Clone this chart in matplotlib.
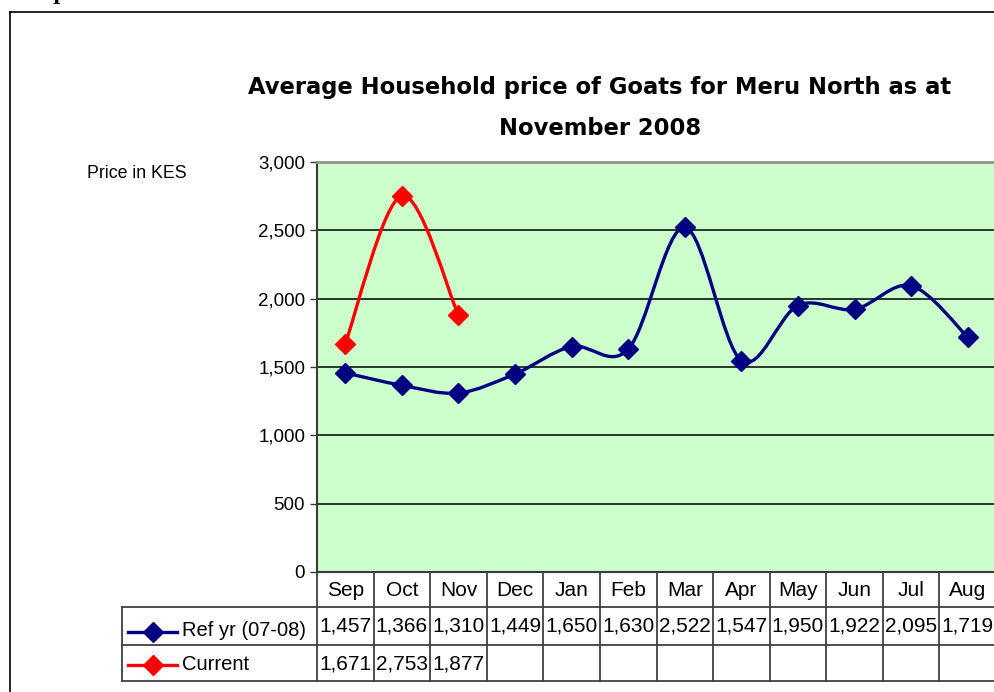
import numpy as np
import matplotlib
matplotlib.use('Agg')
import matplotlib.pyplot as plt
from matplotlib.path import Path
from matplotlib.patches import PathPatch
from matplotlib.lines import Line2D
from matplotlib.transforms import blended_transform_factory

plt.rcParams['font.family'] = ['Liberation Sans', 'DejaVu Sans']

months = ['Sep', 'Oct', 'Nov', 'Dec', 'Jan', 'Feb', 'Mar', 'Apr', 'May',
          'Jun', 'Jul', 'Aug']
ref_yr = [1457, 1366, 1310, 1449, 1650, 1630, 2522, 1547, 1950, 1922, 2095, 1719]
current = [1671, 2753, 1877]
ref_label = 'Ref yr (07-08)'
cur_label = 'Current'
title = 'Average Household price of Goats for Meru North as at\nNovember 2008'
y_ticks = [0, 500, 1000, 1500, 2000, 2500, 3000]

W, H = 995, 692
BLUE = '#000080'
RED = '#ff0000'
GRID_C = '#3a3a3a'


def px(x):
    return x / W


def py(y):
    return 1 - y / H


def smooth_path(xs, ys):
    # Excel-style smoothed line: cubic Bezier through each point
    pts = np.column_stack([xs, ys]).astype(float)
    n = len(pts)
    verts = [pts[0]]
    codes = [Path.MOVETO]
    for i in range(n - 1):
        p0 = pts[i - 1] if i > 0 else pts[i]
        p1 = pts[i]
        p2 = pts[i + 1]
        p3 = pts[i + 2] if i + 2 < n else pts[i + 1]
        c1 = p1 + (p2 - p0) / 6
        c2 = p2 - (p3 - p1) / 6
        verts += [c1, c2, p2]
        codes += [Path.CURVE4] * 3
    return Path(verts, codes)


fig = plt.figure(figsize=(W / 100, H / 100), dpi=100)

# outer frame of the chart object (cropped at right and bottom)
fig.add_artist(Line2D([px(10), px(10)], [py(12), py(H + 5)],
                      color='black', lw=1.2))
fig.add_artist(Line2D([px(10), px(W + 5)], [py(12), py(12)],
                      color='black', lw=1.2))
fig.text(px(59), py(4), 'p', ha='center', va='bottom', fontsize=14,
         fontweight='bold', family='DejaVu Serif')

ax = fig.add_axes([px(317), py(572), px(996) - px(317), py(162) - py(572)])
ax.set_facecolor('#ccffcc')
ax.set_xlim(-0.5, len(months) - 0.5)
ax.set_ylim(0, 3000)
ax.set_xticks([])
ax.set_yticks(y_ticks)
ax.set_yticklabels([f'{v:,}' for v in y_ticks])
ax.tick_params(axis='y', length=5, width=1.0, color=GRID_C, pad=3.5,
               labelsize=13.5)
for v in y_ticks[1:-1]:
    ax.axhline(v, color='black', lw=1.1, zorder=1)
ax.spines['top'].set_color('#909090')
ax.spines['top'].set_linewidth(2)
ax.spines['right'].set_visible(False)
ax.spines['left'].set_color(GRID_C)
ax.spines['left'].set_linewidth(1.5)
ax.spines['bottom'].set_color(GRID_C)
ax.spines['bottom'].set_linewidth(1.5)

x_ref = np.arange(len(ref_yr))
x_cur = np.arange(len(current))
for xs, ys, col in [(x_ref, ref_yr, BLUE), (x_cur, current, RED)]:
    ax.add_patch(PathPatch(smooth_path(xs, ys), facecolor='none',
                           edgecolor=col, lw=2.4, zorder=3,
                           capstyle='round', joinstyle='round'))
    ax.plot(xs, ys, linestyle='none', marker='D', markersize=10,
            color=col, zorder=4, clip_on=False)

fig.text(px(137), py(173), 'Price in KES', ha='center', va='center',
         fontsize=12.8)
fig.text(px(600), py(108), title, ha='center', va='center', fontsize=16.3,
         fontweight='bold', family='DejaVu Sans', linespacing=1.95)

# data table under the axis
tr = blended_transform_factory(ax.transData, fig.transFigure)
tc = '#404040'
tlw = 1.3
y_top, y_r1, y_r2, y_bot = 572, 607, 645, 681
for k in range(len(months) + 1):
    fig.add_artist(Line2D([k - 0.5, k - 0.5], [py(y_top), py(y_bot)],
                          color=tc, lw=tlw, transform=tr))
x_end = len(months) - 0.5 + 0.1
fig.add_artist(Line2D([px(122), px(122)], [py(y_r1), py(y_bot)],
                      color=tc, lw=tlw))
for yy in (y_r1, y_r2, y_bot):
    fig.add_artist(Line2D([px(122), px(317)], [py(yy), py(yy)],
                          color=tc, lw=tlw))
    fig.add_artist(Line2D([-0.5, x_end], [py(yy), py(yy)],
                          color=tc, lw=tlw, transform=tr))

for i, m in enumerate(months):
    fig.text(i, py(590), m, ha='center', va='center', fontsize=15,
             transform=tr)
for i, v in enumerate(ref_yr):
    fig.text(i, py(626), f'{v:,}', ha='center', va='center', fontsize=15,
             transform=tr)
for i, v in enumerate(current):
    fig.text(i, py(664), f'{v:,}', ha='center', va='center', fontsize=15,
             transform=tr)

for yy, col, lab in [(632, BLUE, ref_label), (665, RED, cur_label)]:
    fig.add_artist(Line2D([px(128), px(177)], [py(yy), py(yy)],
                          color=col, lw=2.4))
    fig.add_artist(Line2D([px(153)], [py(yy)], marker='D', markersize=10,
                          color=col, linestyle='none'))
    fig.text(px(182), py(yy - 1), lab, ha='left', va='center', fontsize=14.5)

fig.savefig('out.png', dpi=100)
